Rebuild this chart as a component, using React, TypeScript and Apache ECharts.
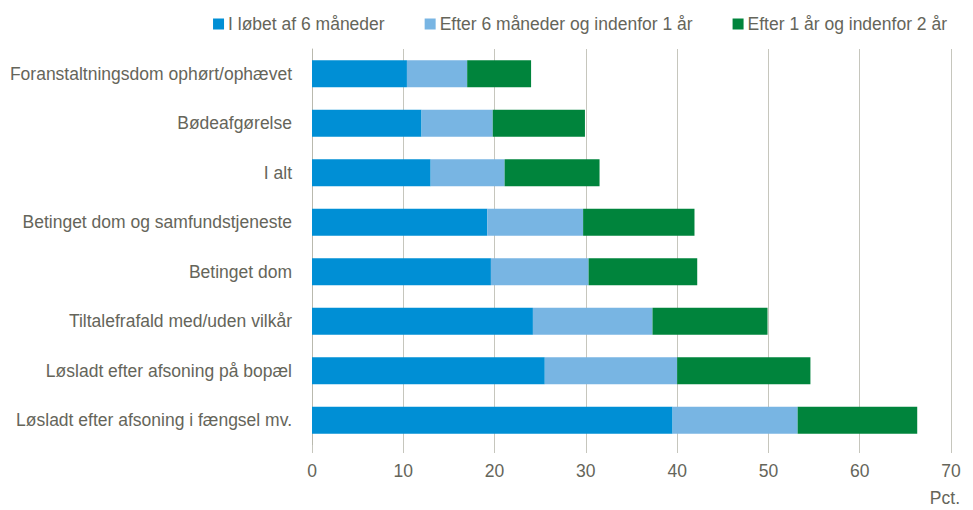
import React, { useEffect, useRef } from "react";
import * as echarts from "echarts";

const categories = [
  "Foranstaltningsdom ophørt/ophævet",
  "Bødeafgørelse",
  "I alt",
  "Betinget dom og samfundstjeneste",
  "Betinget dom",
  "Tiltalefrafald med/uden vilkår",
  "Løsladt efter afsoning på bopæl",
  "Løsladt efter afsoning i fængsel mv.",
];
const within6m = [10.4, 12.0, 13.0, 19.2, 19.6, 24.2, 25.5, 39.5];
const from6mTo1y = [6.6, 7.8, 8.1, 10.5, 10.7, 13.1, 14.5, 13.7];
const from1yTo2y = [7.0, 10.1, 10.4, 12.2, 11.9, 12.6, 14.6, 13.1];
const seriesNames = [
  "I løbet af 6 måneder",
  "Efter 6 måneder og indenfor 1 år",
  "Efter 1 år og indenfor 2 år",
];
const colors = ["#008fd5", "#78b5e3", "#00843c"];
const xTicks = [0, 10, 20, 30, 40, 50, 60, 70];

const FONT = "'Liberation Sans', Arial, sans-serif";
const TEXT = "#65655a";
const FS = 17.5;

export default function App() {
  const ref = useRef<HTMLDivElement>(null);
  useEffect(() => {
    if (!ref.current) return;
    const chart = echarts.init(ref.current, null, { renderer: "svg" });
    const data = [within6m, from6mTo1y, from1yTo2y];
    chart.setOption({
      animation: false,
      textStyle: { fontFamily: FONT },
      color: colors,
      legend: {
        top: 10,
        right: 21,
        itemWidth: 11,
        itemHeight: 11,
        itemGap: 40,
        icon: "rect",
        textStyle: { fontFamily: FONT, fontSize: FS, color: TEXT, padding: [0, 0, 0, -1] },
        data: seriesNames,
      },
      grid: { left: 312, right: 22, top: 49, bottom: 65, containLabel: false },
      xAxis: {
        type: "value",
        min: xTicks[0],
        max: xTicks[xTicks.length - 1],
        interval: 10,
        axisLine: { show: false },
        axisTick: { show: true, length: 8, lineStyle: { color: "#c6c6bd" } },
        splitLine: { show: true, lineStyle: { color: "#c6c6bd", width: 1 } },
        axisLabel: { fontFamily: FONT, fontSize: FS, color: TEXT, margin: 17 },
      },
      yAxis: {
        type: "category",
        inverse: true,
        data: categories,
        axisLine: { show: true, lineStyle: { color: "#b9b9ae" } },
        axisTick: { show: false },
        axisLabel: { fontFamily: FONT, fontSize: FS, color: TEXT, margin: 20 },
      },
      graphic: [
        {
          type: "text",
          right: 13,
          top: 489,
          style: { text: "Pct.", font: `${FS}px ${FONT}`, fill: TEXT },
        },
      ],
      series: seriesNames.map((name, i) => ({
        name,
        type: "bar",
        stack: "total",
        barWidth: 27,
        data: data[i],
        itemStyle: { color: colors[i] },
      })),
    });
    return () => chart.dispose();
  }, []);
  return <div ref={ref} style={{ width: 973, height: 510, position: "absolute", left: 0, top: 0 }} />;
}
